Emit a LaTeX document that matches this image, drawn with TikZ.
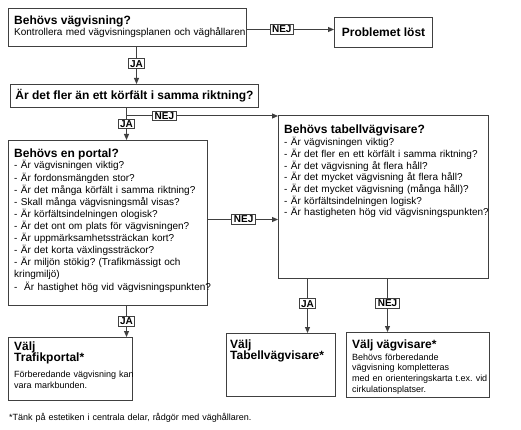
\documentclass[tikz,border=0pt]{standalone}
\usepackage{fontspec}
\setmainfont{Liberation Sans}
\usetikzlibrary{arrows.meta,calc,positioning}
\frenchspacing

\definecolor{linje}{gray}{0.25}
\newcommand{\rubrik}{\bfseries\fontsize{12}{12}\selectfont}
\newcommand{\brodtext}{\fontsize{10}{11.7}\selectfont\lineskiplimit=-50pt}
\newcommand{\portaltext}{\fontsize{10}{12.1}\selectfont\lineskiplimit=-50pt}
\newcommand{\liten}{\fontsize{9}{10.7}\selectfont\lineskiplimit=-50pt}

\begin{document}
\begin{tikzpicture}[x=1pt,y=-1pt,
		ruta/.style={draw=linje, line width=1pt, anchor=north west, inner sep=0pt},
		rutatext/.style={anchor=base west, align=left, inner sep=0pt, text width=250pt},
		svar/.style={draw=linje, line width=1pt, fill=white, font=\bfseries\fontsize{10}{10}\selectfont, inner xsep=2pt, inner ysep=1.5pt},
		pil/.style={draw=linje, line width=1pt, -{Triangle[length=6pt,width=5pt]}}]
		\useasboundingbox (0,0) rectangle (521,430);
		% rutor
		\node[ruta, minimum width=238pt, minimum height=38pt] (vag) at (8,8) {};
		\node[ruta, minimum width=98pt, minimum height=30pt, font=\rubrik] (lost) at (334,17) {Problemet löst};
		\node[ruta, minimum width=248pt, minimum height=23pt, font=\rubrik] (fler) at (10,84) {Är det fler än ett körfält i samma riktning?};
		\node[ruta, minimum width=199pt, minimum height=165pt] (portal) at (8,140) {};
		\node[ruta, minimum width=210pt, minimum height=163pt] (tabell) at (278,115) {};
		\node[ruta, minimum width=124pt, minimum height=63pt] (trafik) at (8,337) {};
		\node[ruta, minimum width=109pt, minimum height=63pt] (tabellval) at (226,333) {};
		\node[ruta, minimum width=143pt, minimum height=65pt] (visare) at (346,332) {};
		% texter
		\node[rutatext, font=\brodtext] (vag-t) at (14,24.5) {{\rubrik Behövs vägvisning?}\\[-0.9pt]
			Kontrollera med vägvisningsplanen och väghållaren};
		\node[rutatext, font=\portaltext] (portal-t) at (14,157.5) {{\rubrik Behövs en portal?}\\[-0.6pt]
			- Är vägvisningen viktig?\\
			- Är fordonsmängden stor?\\
			- Är det många körfält i samma riktning?\\
			- Skall många vägvisningsmål visas?\\
			- Är körfältsindelningen ologisk?\\
			- Är det ont om plats för vägvisningen?\\
			- Är uppmärksamhetssträckan kort?\\
			- Är det korta växlingssträckor?\\
			- Är miljön stökig? (Trafikmässigt och\\
			kringmiljö)\\
			-\ \ Är hastighet hög vid vägvisningspunkten?};
		\node[rutatext, font=\brodtext] (tabell-t) at (284,134) {{\rubrik Behövs tabellvägvisare?}\\
			- Är vägvisningen viktig?\\
			- Är det fler en ett körfält i samma riktning?\\
			- Är det vägvisning åt flera håll?\\
			- Är det mycket vägvisning åt flera håll?\\
			- Är det mycket vägvisning (många håll)?\\
			- Är körfältsindelningen logisk?\\
			- Är hastigheten hög vid vägvisningspunkten?};
		\node[rutatext, font=\liten] (trafik-t) at (14,350) {{\rubrik Välj}\\[1pt]
			{\rubrik Trafikportal*}\\[5.3pt]
			Förberedande vägvisning kan\\
			vara markbunden.};
		\node[rutatext, font=\liten] (tabellval-t) at (230,348) {{\rubrik Välj}\\[1pt]
			{\rubrik Tabellvägvisare*}};
		\node[rutatext, font=\liten] (visare-t) at (352,348.3) {{\rubrik Välj vägvisare*}\\[1pt]
			Behövs förberedande\\
			vägvisning kompletteras\\
			med en orienteringskarta t.ex. vid\\
			cirkulationsplatser.};
		\node[rutatext, font=\liten] (fotnot) at (9,420) {*Tänk på estetiken i centrala delar, rådgör med väghållaren.};
		% pilar
		\draw[pil] ([yshift=-2pt]vag.east) -- node[svar, pos=0.4] {NEJ} ([yshift=-2pt]vag.east -| lost.west);
		\draw[pil] ([xshift=9pt]vag.south) -- node[svar, pos=0.45] {JA} ([xshift=9pt]vag.south |- fler.north);
		\coordinate (delning) at ($([xshift=-8pt]fler.south)+(0,8)$);
		\draw[pil] (delning) -- node[svar, pos=0.25] {NEJ} (delning -| tabell.west);
		\draw[pil] ([xshift=-8pt]fler.south) -- node[svar, pos=0.5] {JA} ([xshift=-8pt]fler.south |- portal.north);
		\draw[pil] ([yshift=3.5pt]portal.east) -- node[svar, pos=0.51] {NEJ} ([yshift=3.5pt]portal.east -| tabell.west);
		\draw[pil] ([xshift=18.5pt]portal.south) -- node[svar, pos=0.5] {JA} ([xshift=18.5pt]portal.south |- trafik.north);
		\draw[pil] ([xshift=-76pt]tabell.south) -- node[svar, pos=0.46] {JA} ([xshift=-76pt]tabell.south |- tabellval.north);
		\draw[pil] ([xshift=4pt]tabell.south) -- node[svar, pos=0.46] {NEJ} ([xshift=4pt]tabell.south |- visare.north);
	\end{tikzpicture}
\end{document}
